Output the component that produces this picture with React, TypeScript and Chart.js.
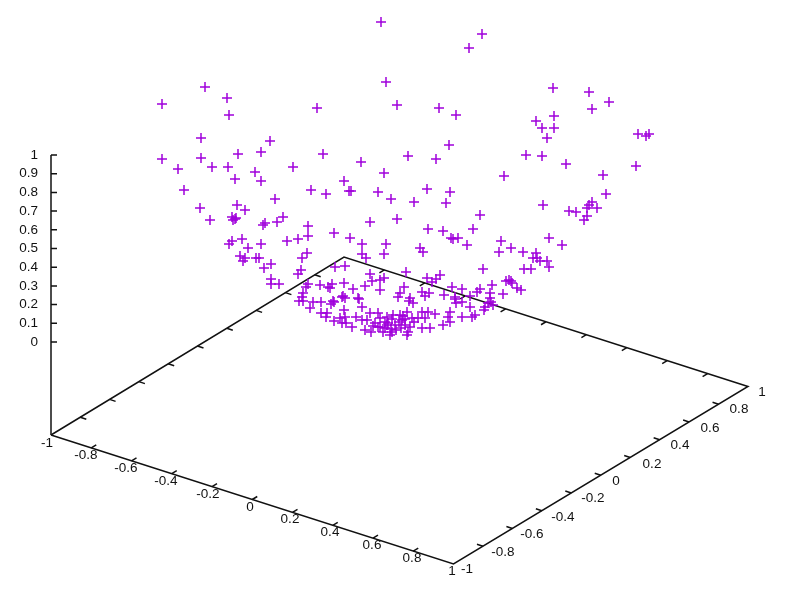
import React, { useEffect, useRef } from "react";
import { Chart, registerables } from "chart.js";

Chart.register(...registerables);

// Points and axes as they appear on the projected plane of the picture.
const upperPoints: number[][] = [
  [381,22],[386,82],[397,105],[205,87],[227,98],[162,104],[229,115],[317,108],[201,138],[270,141],[162,159],[178,169],[201,158],[212,167],[228,167],[238,154],[261,152],[255,172],[261,181],[235,179],[184,190],[293,167],[323,154],[275,199],[311,190],[326,194],[344,181],[349,191],[351,191],[361,162],[384,173],[378,192],[391,199],[408,156],
  [482,34],[469,48],[553,88],[589,92],[609,102],[592,109],[439,108],[456,115],[554,116],[536,121],[542,128],[554,128],[547,138],[638,134],[649,134],[646,136],[449,145],[436,159],[526,155],[542,156],[566,164],[636,166],[603,175],[504,176],[606,194],[427,189],[450,192],[414,202],[446,203],
];
const leftPoints: number[][] = [
  [200,208],[210,220],[237,205],[245,210],[232,217],[235,219],[233,220],[236,218],[265,223],[263,225],[277,222],[283,217],[308,226],[308,236],[334,233],[298,239],[287,241],[242,239],[232,241],[229,244],[261,244],[248,248],[240,256],[245,258],[243,261],[256,258],[259,258],[271,264],[264,268],[307,253],[302,258],[301,270],[298,274],[271,279],[271,284],[279,284],[335,267],
];
const centerPoints: number[][] = [
  [480,215],[370,222],[397,219],[350,238],[428,229],[443,231],[473,229],[451,238],[453,239],[458,238],[467,245],[362,244],[386,244],[420,248],[423,252],[362,254],[384,254],[366,258],[345,266],[483,269],[406,272],[370,274],[427,278],[440,275],[436,279],[432,282],[384,278],[380,280],[372,281],[365,286],[344,283],[404,287],[380,290],[353,289],[452,287],[462,289],[480,289],[477,292],[422,292],[429,293],[425,296],[444,295],[455,297],[400,293],[398,297],[358,298],[343,296],[342,297],[410,298],[470,296],
];
const rightPoints: number[][] = [
  [543,205],[592,202],[589,205],[587,208],[597,208],[587,216],[584,220],[569,211],[576,212],[501,241],[549,238],[562,245],[511,248],[499,252],[523,252],[536,253],[533,258],[537,258],[547,261],[540,261],[549,267],[524,269],[531,269],[506,281],[509,280],[512,283],[511,281],[517,288],[521,290],[492,285],[490,293],[503,294],[490,298],[488,303],[485,307],[493,305],
];
const lowerPoints: number[][] = [
  [308,284],[306,287],[320,285],[328,287],[332,284],[330,288],[303,293],[302,297],[299,301],[303,301],[313,302],[321,302],[310,308],[334,302],[333,301],[331,304],[345,298],[359,299],[362,307],[344,310],[321,313],[327,313],[326,317],[334,321],[345,317],[346,323],[356,317],[352,327],[370,313],[378,313],[367,320],[375,323],[365,330],[371,332],[387,317],[392,319],[388,323],[383,332],[392,332],[455,299],[462,302],[456,303],[409,301],[413,303],[470,307],[491,302],[484,310],[407,312],[422,312],[428,312],[435,314],[450,312],[448,317],[450,322],[462,317],[472,317],[475,315],[443,325],[430,328],[422,328],[418,318],[425,318],[414,322],[393,315],[385,322],[400,315],[402,320],[405,325],[395,325],[390,335],[408,332],[407,335],[401,328],[373,326],[380,318],
  [387,325],[391,329],[399,322],[403,316],[396,330],[405,319],[410,327],[385,328],[378,327],[362,320],[380,327],[412,318],[342,323],[340,318],
];

const cornerLeft = [51, 435];
const cornerFront = [453.5, 564];
const cornerRight = [748, 386.5];
const cornerBack = [344, 257];
const zAxisTop = [51, 155];
const zAxisZero = [51, 342];

const zTickLabels = ["0","0.1","0.2","0.3","0.4","0.5","0.6","0.7","0.8","0.9","1"];
const xTickLabels = ["-1","-0.8","-0.6","-0.4","-0.2","0","0.2","0.4","0.6","0.8","1"];
const yTickLabels = ["-1","-0.8","-0.6","-0.4","-0.2","0","0.2","0.4","0.6","0.8","1"];
const xLabelX = [47,86,126,166,208,250,290,330,372,412,452];
const xLabelY = [443,455,468,481,494,507,519,532,545,558,571];
const yLabelX = [467,503,532,563,593,616,652,680,710,739,762];
const yLabelY = [569,552,534,517,498,481,464,445,428,409,392];
const zLabelRight = 38;

const gap = { x: NaN, y: NaN };
const lerp = (a: number[], b: number[], t: number) => [a[0] + (b[0] - a[0]) * t, a[1] + (b[1] - a[1]) * t];

function tickSegments(from: number[], to: number[], dx: number, dy: number, count: number) {
  const out: { x: number; y: number }[] = [];
  for (let i = 1; i < count; i++) {
    const p = lerp(from, to, i / count);
    out.push({ x: p[0], y: p[1] }, { x: p[0] + dx, y: p[1] + dy }, gap);
  }
  return out;
}

const zSegments = () => {
  const out: { x: number; y: number }[] = [];
  for (let i = 0; i <= 10; i++) {
    const p = lerp(zAxisZero, zAxisTop, i / 10);
    out.push({ x: p[0], y: p[1] }, { x: p[0] + 6, y: p[1] }, gap);
  }
  return out;
};

const labelPlugin = {
  id: "axisText",
  afterDatasetsDraw(chart: any) {
    const { ctx, scales } = chart;
    const sx = scales.x, sy = scales.y;
    ctx.save();
    ctx.fillStyle = "#111";
    ctx.font = '13.5px "Liberation Sans"';
    ctx.textBaseline = "middle";
    ctx.textAlign = "center";
    xTickLabels.forEach((t, i) => ctx.fillText(t, sx.getPixelForValue(xLabelX[i]), sy.getPixelForValue(xLabelY[i])));
    yTickLabels.forEach((t, i) => ctx.fillText(t, sx.getPixelForValue(yLabelX[i]), sy.getPixelForValue(yLabelY[i])));
    ctx.textAlign = "right";
    zTickLabels.forEach((t, i) => {
      const p = lerp(zAxisZero, zAxisTop, i / 10);
      ctx.fillText(t, sx.getPixelForValue(zLabelRight), sy.getPixelForValue(p[1]));
    });
    ctx.restore();
  },
};

export default function App() {
  const ref = useRef<HTMLCanvasElement>(null);
  useEffect(() => {
    if (!ref.current) return;
    const toXY = (list: number[][]) => list.map((p) => ({ x: p[0], y: p[1] }));
    const line = (data: any[]) => ({
      data, showLine: true, spanGaps: false, pointRadius: 0,
      borderColor: "#111", borderWidth: 1.5, fill: false,
    });
    const pts = [...upperPoints, ...leftPoints, ...centerPoints, ...rightPoints, ...lowerPoints];
    const chart = new Chart(ref.current, {
      type: "scatter",
      data: {
        datasets: [
          {
            label: "points",
            data: toXY(pts),
            pointStyle: "cross",
            pointRadius: 5,
            borderColor: "#a000dc",
            backgroundColor: "#a000dc",
            pointBorderWidth: 1.5,
          } as any,
          line(toXY([cornerLeft, cornerFront, cornerRight, cornerBack, cornerLeft])),
          line(toXY([cornerLeft, zAxisTop])),
          line(zSegments()),
          line(tickSegments(cornerLeft, cornerFront, 5, -3, 10)),
          line(tickSegments(cornerBack, cornerRight, -5, 3, 10)),
          line(tickSegments(cornerFront, cornerRight, -6, -2, 10)),
          line(tickSegments(cornerLeft, cornerBack, 6, 2, 10)),
        ] as any,
      },
      options: {
        responsive: false,
        animation: false,
        layout: { padding: 0, autoPadding: false },
        plugins: { legend: { display: false }, tooltip: { enabled: false }, title: { display: false } },
        scales: {
          x: { type: "linear", min: 0, max: 800, display: false },
          y: { type: "linear", min: 0, max: 599, reverse: true, display: false },
        },
      },
      plugins: [labelPlugin],
    });
    return () => chart.destroy();
  }, []);
  return (
    <div style={{ position: "fixed", left: 0, top: 0, width: 800, height: 599, background: "#fff" }}>
      <canvas ref={ref} width={800} height={599} style={{ display: "block" }} />
    </div>
  );
}
